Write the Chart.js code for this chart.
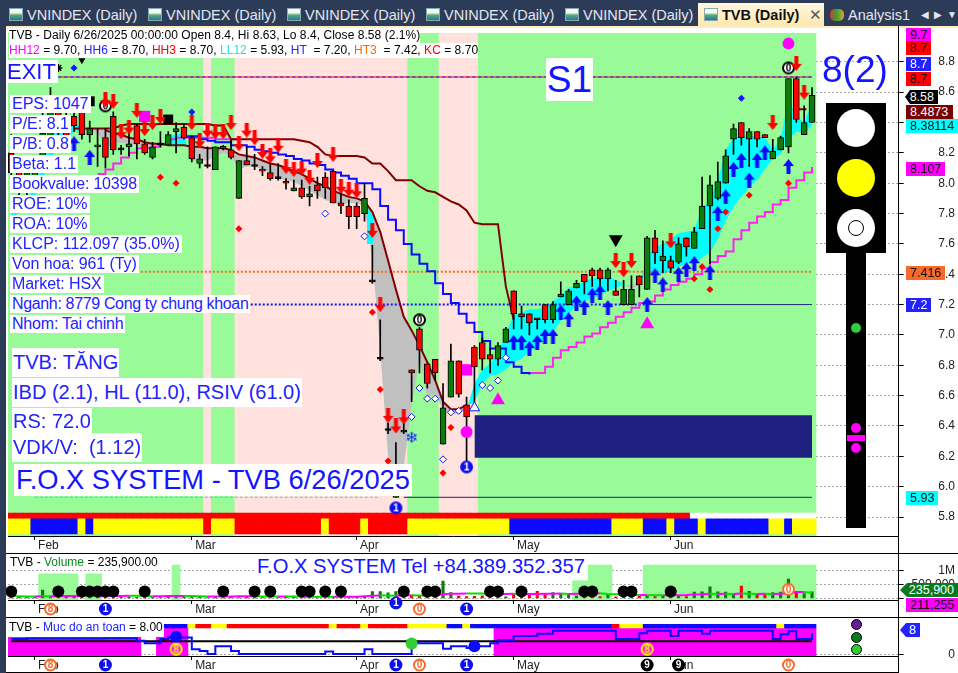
<!DOCTYPE html>
<html>
<head>
<meta charset="utf-8">
<title>TVB (Daily)</title>
<script src="https://cdn.jsdelivr.net/npm/chart.js@4/dist/chart.umd.min.js"></script>
<style>
  html, body { margin: 0; padding: 0; background: #fff; overflow: hidden; }
  body { width: 958px; height: 673px; position: relative; font-family: "Liberation Sans", Arial, sans-serif; }
  canvas { position: absolute; left: 0; }
  #main { top: 0; } #vol { top: 553px; } #safe { top: 617px; }
  .abs { position: absolute; white-space: pre; }
  .info { background: #fff; color: #2222ff; left: 10px; font-size: 16px; line-height: 18px; height: 18px; padding: 0 2px; }
  .big { background: #fff; color: #2222ff; left: 12px; font-size: 20px; padding: 0 1px; }
  .tag { left: 906px; height: 14px; line-height: 14px; font-size: 12.5px; padding: 0 4px; color: #111; }
  .tab { top: 6px; color: #e3e8f0; font-size: 14.5px; line-height: 18px; }
  .ico { position: absolute; top: 8px; width: 14px; height: 13px; background: linear-gradient(#f4f8ff 35%, #55b060 55%, #2a6fc0); border: 1px solid #8aa; box-sizing: border-box; }
  .line { position: absolute; background: #000; }
  .dot { position: absolute; border-radius: 50%; }
</style>
</head>
<body>
<canvas id="main" width="958" height="553"></canvas>
<canvas id="vol" width="958" height="64"></canvas>
<canvas id="safe" width="958" height="56"></canvas>

<!-- tab bar -->
<div class="abs" style="left:0;top:0;width:958px;height:26px;background:#2c3b57"></div>
<div class="abs" style="left:0;top:26px;width:6px;height:647px;background:#2c3b57"></div>
<div class="abs" style="left:6px;top:26px;width:952px;height:2px;background:#fdeec0"></div>
<div class="abs" style="left:698px;top:3px;width:126px;height:23px;background:linear-gradient(#fff7df,#fde7ae)"></div>
<div class="ico" style="left:9px"></div><div class="abs tab" style="left:27px">VNINDEX (Daily)</div>
<div class="ico" style="left:148px"></div><div class="abs tab" style="left:166px">VNINDEX (Daily)</div>
<div class="ico" style="left:287px"></div><div class="abs tab" style="left:305px">VNINDEX (Daily)</div>
<div class="ico" style="left:426px"></div><div class="abs tab" style="left:444px">VNINDEX (Daily)</div>
<div class="ico" style="left:565px"></div><div class="abs tab" style="left:583px">VNINDEX (Daily)</div>
<div class="ico" style="left:704px"></div><div class="abs tab" style="left:722px;color:#111;font-weight:bold">TVB (Daily)</div>
<div class="abs tab" style="left:809px;color:#555;font-size:15px">✕</div>
<div class="abs" style="left:830px;top:9px;width:14px;height:12px;background:linear-gradient(90deg,#d33,#3a3,#e93);border-radius:5px"></div>
<div class="abs tab" style="left:848px">Analysis1</div>
<div class="abs tab" style="left:921px;font-size:10px">◀</div>
<div class="abs tab" style="left:934px;font-size:10px">▶</div>
<div class="abs tab" style="left:947px;font-size:10px">▼</div>

<!-- title rows -->
<div class="abs" style="left:9px;top:28px;background:#fff;font-size:12px;line-height:15px;color:#000;letter-spacing:.05px">TVB - Daily 6/26/2025 00:00:00 Open 8.4, Hi 8.63, Lo 8.4, Close 8.58 (2.1%)</div>
<div class="abs" style="left:9px;top:43px;width:469px;background:#fff;font-size:12px;line-height:15px;color:#000;letter-spacing:.03px"><span style="color:#f0f">HH12</span> = 9.70, <span style="color:#22f">HH6</span> = 8.70, <span style="color:#f00">HH3</span> = 8.70, <span style="color:#0ee">LL12</span> = 5.93, <span style="color:#22f">HT </span> = 7.20, <span style="color:#f60">HT3</span>  = 7.42, <span style="color:#f00">KC</span> = 8.70</div>

<!-- info labels -->
<div class="abs" style="left:7px;top:60px;background:#fff;color:#1414ff;font-size:22px;line-height:23px;padding-right:2px">EXIT</div>
<div class="abs" style="left:546px;top:58px;width:47px;height:43px;background:#fff;color:#1414ff;font-size:37px;line-height:43px;text-align:center">S1</div>
<div class="abs" style="left:822px;top:48px;color:#1414ff;font-size:37px;line-height:43px">8(2)</div>
<div class="abs info" style="top:95px">EPS: 1047</div>
<div class="abs info" style="top:115px">P/E: 8.1</div>
<div class="abs info" style="top:135px">P/B: 0.8</div>
<div class="abs info" style="top:155px">Beta: 1.1</div>
<div class="abs info" style="top:175px;letter-spacing:-.2px">Bookvalue: 10398</div>
<div class="abs info" style="top:195px">ROE: 10%</div>
<div class="abs info" style="top:215px">ROA: 10%</div>
<div class="abs info" style="top:235px">KLCP: 112.097 (35.0%)</div>
<div class="abs info" style="top:255px;letter-spacing:-.1px">Von hoa: 961 (Ty)</div>
<div class="abs info" style="top:275px;letter-spacing:-.1px">Market: HSX</div>
<div class="abs info" style="top:295px;letter-spacing:-.35px">Nganh: 8779 Cong ty chung khoan</div>
<div class="abs info" style="top:315px;letter-spacing:-.2px">Nhom: Tai chinh</div>
<div class="abs big" style="top:348px;line-height:29px">TVB: TĂNG</div>
<div class="abs big" style="top:378px;line-height:29px">IBD (2.1), HL (11.0), RSIV (61.0)</div>
<div class="abs big" style="top:408px;line-height:26px">RS: 72.0</div>
<div class="abs big" style="top:433px;line-height:29px">VDK/V:  (1.12)</div>
<div class="abs" style="left:14px;top:464px;padding:0 2px;background:#fff;color:#1414ff;font-size:27.3px;line-height:32px">F.O.X SYSTEM - TVB 6/26/2025</div>

<!-- traffic light -->
<div class="abs" style="left:826px;top:103px;width:60px;height:150px;background:#000"></div>
<div class="abs" style="left:846px;top:253px;width:20px;height:275px;background:#000"></div>
<div class="dot" style="left:837px;top:109px;width:38px;height:38px;background:#fff"></div>
<div class="dot" style="left:837px;top:159px;width:38px;height:38px;background:#ff0"></div>
<div class="dot" style="left:837px;top:209px;width:38px;height:38px;background:#fff"></div>
<div class="dot" style="left:848px;top:220px;width:14px;height:14px;border:1px solid #000"></div>
<div class="dot" style="left:851px;top:323px;width:10px;height:10px;background:#2ecc40"></div>
<div class="dot" style="left:851px;top:423px;width:10px;height:10px;background:#f0f"></div>
<div class="abs" style="left:847px;top:435px;width:18px;height:6px;background:#f0f"></div>
<div class="dot" style="left:851px;top:443px;width:10px;height:10px;background:#f0f"></div>

<!-- value tags -->
<div class="abs tag" style="top:28px;width:17px;background:#f0f">9.7</div>
<div class="abs tag" style="top:41px;width:17px;background:#f00">8.7</div>
<div class="abs tag" style="top:57px;width:17px;background:#22f;color:#fff">8.7</div>
<div class="abs tag" style="top:72px;width:17px;background:#f00">8.7</div>
<div class="abs tag" style="top:90px;width:25px;background:#000;color:#fff;left:905px;text-align:right;clip-path:polygon(0 50%,5px 0,100% 0,100% 100%,5px 100%)">8.58</div>
<div class="abs tag" style="top:105px;width:39px;background:#7a0000;color:#fff">8.4873</div>
<div class="abs tag" style="top:119px;width:44px;background:#0ff">8.38114</div>
<div class="abs tag" style="top:162px;width:31px;background:#f0f">8.107</div>
<div class="abs tag" style="top:266px;width:31px;background:#f96a2a">7.416</div>
<div class="abs tag" style="top:298px;width:17px;background:#22f;color:#fff">7.2</div>
<div class="abs tag" style="top:491px;width:24px;background:#0ff">5.93</div>
<div class="abs tag" style="top:583px;left:900px;width:50px;background:#0a7a20;color:#fff;text-align:right;clip-path:polygon(0 50%,7px 0,100% 0,100% 100%,7px 100%)">235,900</div>
<div class="abs tag" style="top:598px;width:44px;background:#f0f">211,255</div>
<div class="abs tag" style="top:623px;left:900px;width:12px;background:#22f;color:#fff;text-align:right;clip-path:polygon(0 50%,6px 0,100% 0,100% 100%,6px 100%)">8</div>
<div class="dot" style="left:851px;top:619px;width:9px;height:9px;background:#6a1b9a;border:1px solid #000"></div>
<div class="dot" style="left:851px;top:632px;width:9px;height:9px;background:#0a7a20;border:1px solid #000"></div>
<div class="dot" style="left:851px;top:644px;width:9px;height:9px;background:#32cd32;border:1px solid #000"></div>

<!-- pane captions -->
<div class="abs" style="left:10px;top:555px;font-size:12px;line-height:15px;color:#000">TVB - <span style="color:#0a8a20">Volume</span> = 235,900.00</div>
<div class="abs" style="left:255px;top:555px;padding:0 2px;background:#fff;color:#1414ff;font-size:20.2px;line-height:23px">F.O.X SYSTEM Tel +84.389.352.357</div>
<div class="abs" style="left:9px;top:620px;background:#fff;font-size:12px;line-height:15px;color:#000">TVB - <span style="color:#22f">Muc do an toan</span> = 8.00</div>

<!-- pane frame -->
<div class="line" style="left:898px;top:26px;width:1px;height:647px"></div>
<div class="line" style="left:6px;top:553px;width:952px;height:1px"></div>
<div class="line" style="left:6px;top:617px;width:952px;height:1px"></div>
<div class="line" style="left:6px;top:672px;width:892px;height:1px"></div>

<script>
// daily candles, 103 sessions from late January to 6/26/2025
const opens = [8.20,8.11,7.96,8.04,8.15,8.29,8.48,8.40,8.44,8.47,
  8.32,8.24,8.30,8.44,8.22,8.24,8.38,8.26,8.17,8.25,
  8.25,8.34,8.37,8.30,8.13,8.11,8.09,8.24,8.22,7.90,
  8.15,8.11,8.09,8.07,8.03,8.01,7.95,7.97,7.91,7.99,
  8.04,8.08,7.87,7.85,7.85,7.80,7.35,6.84,6.37,5.93,
  6.36,6.77,7.04,6.81,6.84,6.28,6.59,6.83,6.54,6.92,
  6.95,6.87,6.84,6.95,7.29,7.14,7.14,7.11,7.20,7.10,
  7.25,7.20,7.31,7.40,7.43,7.43,7.37,7.29,7.20,7.20,
  7.39,7.30,7.64,7.49,7.49,7.48,7.64,7.57,7.70,7.85,
  7.90,8.00,8.29,8.40,8.29,8.34,8.32,8.16,8.22,8.24,
  8.69,8.32,8.40];
const highs = [8.32,8.13,8.09,8.18,8.46,8.63,8.55,8.46,8.46,8.51,
  8.41,8.36,8.36,8.47,8.25,8.33,8.39,8.29,8.27,8.34,
  8.34,8.40,8.39,8.31,8.19,8.24,8.24,8.25,8.29,8.15,
  8.24,8.19,8.11,8.13,8.13,8.03,8.02,8.02,7.98,8.04,
  8.07,8.08,7.96,7.89,7.87,8.00,7.59,7.10,6.42,6.29,
  6.42,6.77,7.05,6.81,6.84,6.68,6.94,6.83,6.59,6.93,
  6.98,6.91,6.95,7.05,7.29,7.19,7.14,7.11,7.20,7.22,
  7.35,7.30,7.36,7.40,7.44,7.44,7.44,7.36,7.36,7.39,
  7.39,7.65,7.69,7.62,7.52,7.64,7.64,7.71,8.04,8.05,
  8.14,8.22,8.39,8.40,8.36,8.34,8.32,8.29,8.31,8.69,
  8.70,8.51,8.63];
const lows = [8.04,7.89,7.89,8.02,8.13,8.26,8.29,8.22,8.34,8.29,
  8.27,8.11,8.10,8.19,8.19,8.18,8.16,8.19,8.16,8.24,
  8.25,8.20,8.29,8.14,8.10,8.10,8.09,8.22,8.16,7.90,
  8.12,8.09,8.05,8.02,8.02,7.96,7.95,7.90,7.85,7.90,
  7.90,7.87,7.80,7.70,7.70,7.75,7.34,6.83,6.35,5.93,
  6.35,6.56,6.75,6.65,6.70,6.28,6.59,6.59,6.11,6.53,
  6.77,6.75,6.80,6.95,7.04,7.04,7.00,7.04,7.08,7.08,
  7.25,7.20,7.31,7.27,7.32,7.32,7.29,7.26,7.20,7.20,
  7.25,7.30,7.47,7.41,7.41,7.47,7.52,7.57,7.70,7.47,
  7.89,8.00,8.19,8.25,8.11,8.24,8.30,8.16,8.22,8.20,
  8.40,8.32,8.40];
const closes = [8.07,8.02,8.07,8.15,8.33,8.48,8.35,8.26,8.38,8.32,
  8.36,8.25,8.17,8.22,8.22,8.26,8.26,8.20,8.24,8.25,
  8.32,8.36,8.30,8.16,8.16,8.11,8.24,8.23,8.17,8.15,
  8.12,8.11,8.08,8.03,8.03,8.00,7.97,7.91,7.93,7.95,
  7.97,7.87,7.85,7.78,7.78,7.90,7.35,6.84,6.37,5.94,
  6.36,6.75,6.90,6.68,6.75,6.52,6.83,6.61,6.46,6.79,
  6.84,6.84,6.93,7.04,7.14,7.12,7.08,7.10,7.10,7.20,
  7.27,7.29,7.34,7.35,7.39,7.37,7.43,7.26,7.30,7.30,
  7.33,7.64,7.54,7.52,7.44,7.60,7.58,7.68,7.85,7.99,
  8.01,8.18,8.36,8.30,8.34,8.29,8.30,8.21,8.30,8.69,
  8.42,8.40,8.58];

// cloud edges (cyan when fast is above slow, grey when below)
const fastBand = [7.80,7.85,7.89,7.98,8.13,8.31,8.42,8.42,8.40,8.36,
  8.35,8.33,8.24,8.26,8.27,8.26,8.25,8.23,8.22,8.24,
  8.29,8.33,8.32,8.15,8.15,8.15,8.18,8.20,8.18,8.09,
  8.11,8.11,8.09,8.07,8.03,8.02,8.01,7.98,7.95,7.92,
  7.89,7.87,7.86,7.87,7.87,7.85,7.50,6.90,6.20,5.93,
  6.13,6.53,6.84,6.59,6.61,6.51,6.48,6.48,6.51,6.68,
  6.77,6.81,6.88,7.01,7.13,7.15,7.17,7.17,7.18,7.22,
  7.26,7.31,7.33,7.35,7.37,7.38,7.39,7.36,7.34,7.30,
  7.33,7.52,7.58,7.60,7.63,7.67,7.68,7.69,7.84,7.89,
  8.02,8.22,8.30,8.31,8.31,8.31,8.30,8.22,8.29,8.55,
  8.44,8.40,8.53];
const slowBand = [7.78,7.80,7.82,7.91,8.02,8.15,8.24,8.29,8.34,8.35,
  8.36,8.36,8.35,8.33,8.32,8.30,8.29,8.27,8.26,8.26,
  8.25,8.25,8.25,8.24,8.24,8.23,8.23,8.23,8.22,8.19,
  8.18,8.17,8.15,8.13,8.12,8.10,8.08,8.06,8.03,8.00,
  7.98,7.95,7.93,7.91,7.90,7.88,7.81,7.68,7.49,7.30,
  7.12,7.03,6.93,6.82,6.70,6.56,6.51,6.51,6.54,6.55,
  6.68,6.73,6.74,6.77,6.82,6.84,6.89,6.92,6.98,7.02,
  7.09,7.14,7.19,7.22,7.24,7.26,7.29,7.31,7.33,7.33,
  7.36,7.40,7.40,7.40,7.42,7.45,7.47,7.47,7.51,7.54,
  7.63,7.75,7.84,7.91,7.97,8.02,8.09,8.16,8.19,8.29,
  8.34,8.33,8.38];

// stop lines, each with the session it starts on
const stopMaroonStart = 8;
const stopMaroon = [8.36,8.36,8.36,8.36,8.36,8.36,8.38,8.39,8.39,8.39,8.39,8.39,8.39,8.39,8.39,8.39,8.39,8.39,8.38,8.38,
  8.29,8.29,8.29,8.29,8.29,8.29,8.29,8.29,8.29,8.28,8.27,8.24,8.19,8.18,8.18,8.18,8.18,8.17,8.13,8.13,
  8.08,8.02,8.02,8.02,7.98,7.95,7.94,7.91,7.88,7.86,7.82,7.74,7.73,7.73,7.73,7.32,7.10];
const stopBlueStart = 22;
const stopBlue = [8.31,8.31,8.29,8.28,8.27,8.27,8.25,8.25,8.24,8.22,8.21,8.20,8.19,8.18,8.16,8.15,8.13,8.12,8.09,8.07,
  8.05,8.03,8.00,8.00,7.96,7.85,7.76,7.69,7.60,7.53,7.47,7.42,7.34,7.27,7.21,7.14,7.08,7.02,6.96,6.91,
  6.91,6.82,6.79,6.75,6.74];
const stopMagentaEarlyStart = 11;
const stopMagentaEarly = [8.06,8.09,8.13,8.17,8.20,8.23,8.23,8.24,8.26,8.29,8.30,8.30,8.30,8.30,8.30,8.29,8.29,8.29,8.29];
const stopMagentaStart = 66;
const stopMagenta = [6.75,6.75,6.79,6.85,6.90,6.92,6.95,6.99,7.01,7.05,7.08,7.12,7.15,7.18,7.21,7.22,7.26,7.30,7.33,7.35,
  7.37,7.40,7.44,7.48,7.52,7.55,7.63,7.69,7.74,7.78,7.81,7.86,7.89,7.97,8.02,8.07,8.107];

// signal marks: session and price
const downArrowAt = [12,13,14,15,16,17,18,19,23,24,25,26,27,28,29,30,31,32,33,34,35,36,37,38,39,41,42,43,44,46,47,48,49,50,77,78,79,84,97,100,101];
const downArrowPx = [8.55,8.54,8.34,8.37,8.48,8.36,8.40,8.44,8.40,8.28,8.35,8.34,8.34,8.40,8.26,8.35,8.30,8.21,8.18,8.25,8.11,8.09,8.10,8.04,8.15,8.19,7.98,7.96,7.95,7.69,7.20,6.47,6.40,6.46,7.49,7.43,7.49,7.62,8.40,8.79,8.60];
const upArrowAt = [8,10,64,65,66,67,68,69,70,71,72,73,74,75,76,81,82,83,85,86,87,89,90,91,92,93,94,95,96,99];
const upArrowPx = [8.26,8.17,6.95,6.95,6.91,6.95,6.99,6.99,7.15,7.10,7.21,7.18,7.26,7.28,7.18,7.20,7.39,7.33,7.40,7.43,7.47,7.41,7.80,7.91,8.09,8.15,8.02,8.15,8.20,8.11];
const redDiamondAt = [19,21,29,46,47,48,55,56,87,88,89,90,91,94,99];
const redDiamondPx = [8.04,8.00,7.70,7.15,6.64,6.17,6.09,6.39,7.37,7.45,7.30,7.70,7.81,7.92,8.00];
const hollowDiamondAt = [40,45,51,52,53,54,55,56,57,60,61,62,63];
const hollowDiamondPx = [7.80,7.65,6.46,6.65,6.58,6.58,6.18,6.49,6.50,6.67,6.65,6.70,6.85];
const blueDiamondAt = [8,23,93];
const blueDiamondPx = [8.76,8.47,8.56];
const magentaDotAt = [58,99];
const magentaDotPx = [6.36,8.92];
const magentaSquareAt = [17,58];
const magentaSquarePx = [8.44,6.77];
const blackSquareAt = [10,20];
const blackSquarePx = [8.54,8.42];
const blackTriAt = [9,77];
const blackTriPx = [8.81,7.63];
const magentaTriAt = [62,81];
const magentaTriPx = [6.57,7.07];
const ringZeroAt = [12,52,99];
const ringZeroPx = [8.51,7.10,8.76];
const blueOneAt = [49,58];
const blueOnePx = [5.86,6.13];

// level lines
const levelExit = 8.7;
const levelHT3 = 7.416;
const levelHT = 7.2;
const levelLL12 = 5.93;
const boxTop = 6.47;
const boxBottom = 6.19;

// volume pane
const volumes = [60,40,60,40,300,40,90,110,60,50,60,60,70,50,40,60,40,70,40,30,
  40,60,70,90,40,30,50,30,40,30,40,50,30,30,30,50,40,40,50,30,
  50,40,40,50,50,60,250,250,200,250,100,120,90,50,60,625,210,90,70,80,
  100,90,100,60,160,100,110,260,160,210,180,180,100,100,100,70,150,60,40,60,
  90,80,70,90,60,100,70,230,240,420,240,230,160,450,260,150,160,210,230,700,
  260,180,236];
const volumeAvg = [80,78,76,75,85,84,84,86,86,86,85,84,84,86,90,100,96,92,85,85,
  88,88,90,88,80,75,75,75,76,78,80,82,76,72,70,70,68,66,66,65,
  64,62,62,62,64,80,95,110,105,100,110,116,112,110,108,150,170,175,180,178,
  176,175,165,165,170,155,160,165,170,170,180,165,170,175,180,190,160,150,140,135,
  125,130,120,115,115,120,125,140,150,170,165,170,165,180,170,165,175,160,170,185,
  230,235,211];
const volGreenLow = [72,73];
const volGreenMid = [4,5,6,7,8,10,11];
const volGreenHigh = [21,74,75,76,81,82,83,84,85,86,87,88,89,90,91,92,93,94,95,96,97,98,99,100,101,102];
const volDotAt = [0,6,9,10,11,12,13,17,27,31,33,37,38,40,42,50,53,54,61,62,65,73,74,78,79,84];

// safety pane
const safetyLevel = [5.8,5.8,6,6,6,6,6,6,6,6,6,6,6.1,6.1,6.1,6.1,5.2,4.2,4.2,5.8,
  6.4,6.4,6.4,2,1.3,0.2,3.1,3.1,1.3,0.2,0.2,0.2,0.2,0.2,0.2,0.2,0.2,0.2,0.2,0.2,
  1.1,0.2,0.2,0.2,0.2,2,0.2,0.2,0.2,0.2,0.2,4.2,4.2,4.2,4.2,2.2,3.1,3.1,2.4,3.1,
  3.1,4.2,5.3,5.3,6.9,6.9,6.9,7.8,7.8,8.9,8.9,8.9,8.9,8.9,8.9,8.9,8.9,5.8,5.8,5.8,
  8,8.9,8.9,8.9,6.9,8.9,8.9,8.9,7.8,8.9,8.9,8.9,8.9,8.9,8.9,8.9,8.9,5.8,7.6,8.7,
  5.8,5.8,8];
const safetyBaseline = 5;
const safeLowAt = [0,1,2,3,4,5,6,7,8,9,10,11,12,13,14,15,16,19];
const safeHighAt = [20,21,22,62,63,64,65,66,67,68,69,70,71,72,73,74,75,76,77,78,79,80,81,82,83,84,85,86,87,88,89,90,91,92,93,94,95,96,97,98,99,100,101,102];

// state strips, run lengths by session
const zoneRuns = [['g',25],['p',1],['g',3],['p',22],['g',4],['p',5],['g',43]];
const trendRuns = [['y',3],['b',6],['y',1],['b',1],['y',14],['r',1],['y',3],['r',11],['y',1],['r',4],['y',1],['r',5],['y',13],['b',13],['y',4],['b',3],['y',1],['b',3],['y',1],['b',8],['y',2],['b',1],['y',3]];
const safetyRuns = [['w',20],['b',3],['y',1],['r',2],['y',2],['r',13],['y',1],['r',3],['y',1],['r',5],['y',5],['b',2],['y',1],['b',18],['r',1],['y',3],['b',17],['y',1],['b',4]];
const redStripSessions = 87;

// axes
const xTickAt = [3,23,44,64,84];
const xTickLabels = ['Feb','Mar','Apr','May','Jun'];
const priceTicks = [5.8,6.0,6.2,6.4,6.6,6.8,7.0,7.2,7.4,7.6,7.8,8.0,8.2,8.4,8.6,8.8];
const volumeTicks = [0,500,1000];
const volBadges = [[5,'8','#f96a2a'],[12,'1','#1010ee'],[49,'1','#1010ee',-6],[52,'0','#f96a2a'],[58,'1','#1010ee']];
const safeBadges = [[5,'8','#f96a2a'],[12,'1','#1010ee'],[49,'1','#1010ee'],[52,'0','#f96a2a'],[58,'1','#1010ee'],[81,'9','#000'],[85,'9','#000'],[99,'0','#f96a2a']];

const COLORS = { g:'#98fb98', p:'#ffe2dd', y:'#ffff00', b:'#0a0aff', r:'#ff0000', w:'#ffffff' };
const FONT = '"Liberation Sans", Arial, sans-serif';
const X_MIN = -0.41, X_MAX = 113.04;

function expand(runs) {
  const out = [];
  runs.forEach(r => { for (let k = 0; k < r[1]; k++) out.push(COLORS[r[0]]); });
  return out;
}
function series(start, values) { return values.map((v, k) => ({ x: start + k, y: v })); }
function pairs(at, px) { return at.map((a, k) => ({ x: a, y: px[k] })); }
function span(at, lo, hi) { return at.map(a => ({ x: a, y: [lo, hi] })); }
function allSpan(lo, hi) { return closes.map((c, i) => ({ x: i, y: [lo, hi] })); }

// little images for the marks chart.js has no style for
function arrow(color, up) {
  const c = document.createElement('canvas'); c.width = 11; c.height = 15;
  const g = c.getContext('2d'); g.fillStyle = color; g.beginPath();
  if (up) { g.moveTo(5.5,0); g.lineTo(11,7); g.lineTo(7.5,7); g.lineTo(7.5,15); g.lineTo(3.5,15); g.lineTo(3.5,7); g.lineTo(0,7); }
  else { g.moveTo(5.5,15); g.lineTo(11,8); g.lineTo(7.5,8); g.lineTo(7.5,0); g.lineTo(3.5,0); g.lineTo(3.5,8); g.lineTo(0,8); }
  g.closePath(); g.fill();
  return c;
}
function badgeDraw(g, x, y, digit, color, fill, digitColor) {
  g.beginPath(); g.arc(x, y, 5.5, 0, Math.PI * 2);
  g.fillStyle = fill; g.fill();
  g.lineWidth = 2; g.strokeStyle = color; g.stroke();
  g.fillStyle = digitColor;
  g.font = 'bold 10px ' + FONT; g.textAlign = 'center'; g.textBaseline = 'middle';
  g.fillText(digit, x, y + 0.5);
}
function badge(digit, color, fill, digitColor) {
  const c = document.createElement('canvas'); c.width = 15; c.height = 15;
  badgeDraw(c.getContext('2d'), 7.5, 7.5, digit, color, fill, digitColor);
  return c;
}
function snowflake() {
  const c = document.createElement('canvas'); c.width = 15; c.height = 15;
  const g = c.getContext('2d'); g.fillStyle = '#1414ff';
  g.font = '15px "DejaVu Sans"'; g.textAlign = 'center'; g.textBaseline = 'middle';
  g.fillText('❄', 7.5, 8);
  return c;
}

function scatter(label, data, extra) {
  return Object.assign({ type:'scatter', label, data, showLine:false, order:5, clip:false, pointBorderWidth:0 }, extra);
}
function step(label, data, color, extra) {
  return Object.assign({ type:'line', label, data, borderColor:color, borderWidth:2, pointRadius:0, fill:false, tension:0, order:30 }, extra);
}
function flatBars(label, data, colors, extra) {
  return Object.assign({ type:'bar', label, data, backgroundColor:colors, barThickness:8, grouped:false, borderWidth:0, order:100 }, extra);
}

// keep the plot area where the layout puts it
function fixedAxis(size, vertical) {
  return s => {
    if (vertical) s.width = size; else s.height = size;
    s.paddingTop = s.paddingBottom = s.paddingLeft = s.paddingRight = 0;
  };
}
function xAxis() {
  return {
    type:'linear', min:X_MIN, max:X_MAX, offset:false,
    afterBuildTicks: s => { s.ticks = xTickAt.map(v => ({ value:v })); },
    afterFit: fixedAxis(17, false),
    grid:{ offset:false, drawOnChartArea:false, color:'#000', tickLength:4 },
    border:{ color:'#000' },
    ticks:{ autoSkip:false, maxRotation:0, align:'start', padding:-2, color:'#222', font:{ family:FONT, size:12 },
      callback: v => ' ' + xTickLabels[xTickAt.indexOf(v)] }
  };
}
function yAxis(min, max, ticks, fmt) {
  return {
    type:'linear', position:'right', min, max,
    afterBuildTicks: s => { s.ticks = ticks.map(v => ({ value:v })); },
    afterFit: fixedAxis(56.3, true),
    grid:{ color:'#a8a8a8', lineWidth:1, tickColor:'#000', tickLength:5, tickBorderDash:[] },
    border:{ color:'#000', dash:[2,2] },
    ticks:{ autoSkip:false, crossAlign:'far', padding:0, color:'#222', font:{ family:FONT, size:12 }, callback:fmt }
  };
}
function makeChart(id, top, y, datasets, badges) {
  return new Chart(document.getElementById(id), {
    type:'scatter',
    data:{ datasets },
    options:{
      responsive:false, animation:false, events:[],
      layout:{ padding:{ left:8, top, right:3, bottom:0 } },
      plugins:{ legend:{ display:false }, tooltip:{ enabled:false } },
      scales:{ x:xAxis(), y }
    },
    plugins:[{
      id:'stripBadges',
      afterDraw(chart) {
        (badges || []).forEach(b => {
          const px = chart.scales.x.getPixelForValue(b[0]);
          const ring = b[2] === '#f96a2a';
          badgeDraw(chart.ctx, px, chart.chartArea.bottom + 9 + (b[3] || 0), b[1], b[2], ring ? '#fff' : b[2], ring ? b[2] : '#fff');
        });
      }
    }]
  });
}

// price pane
const candleUp = closes.map((c, i) => c >= opens[i]);
makeChart('main', 33, yAxis(5.675, 8.99, priceTicks, v => v.toFixed(1)), [
  flatBars('zones', allSpan(5.675, 8.99), expand(zoneRuns)),
  flatBars('red strip', closes.map((c, i) => ({ x:i, y:[5.793, 5.826] })), closes.map((c, i) => i < redStripSessions ? COLORS.r : COLORS.w), { order:99 }),
  flatBars('trend strip', allSpan(5.688, 5.793), expand(trendRuns), { order:99 }),
  step('fast', series(0, fastBand), 'rgba(0,0,0,0)', { borderWidth:0, order:90, fill:{ target:'+1', above:'#00ffff', below:'#c0c0c0' } }),
  step('slow', series(0, slowBand), '#800000', { order:28, segment:{ borderColor: c => (c.p0DataIndex >= 12 && c.p0DataIndex < 58) ? '#800000' : 'rgba(0,0,0,0)' } }),
  step('cyan sliver', [{ x:45.3, y:7.85 }, { x:46.1, y:7.78 }], 'rgba(0,0,0,0)', { borderWidth:0, order:85, fill:{ value:7.6 }, backgroundColor:'#00ffff' }),
  step('box', [{ x:59, y:boxTop }, { x:102, y:boxTop }], '#202080', { borderWidth:0, order:80, fill:{ value:boxBottom }, backgroundColor:'#202080' }),
  step('LL12', [{ x:3, y:levelLL12 }, { x:47, y:levelLL12 }], '#30dcdc', { borderWidth:1, borderDash:[3,2], order:70 }),
  step('LL12 solid', [{ x:50, y:levelLL12 }, { x:102, y:levelLL12 }], '#202080', { borderWidth:1, order:70 }),
  step('HT3', [{ x:16, y:levelHT3 }, { x:102, y:levelHT3 }], '#ff6a1a', { borderWidth:2, borderDash:[2,2], order:70 }),
  step('HT', [{ x:30, y:levelHT }, { x:81, y:levelHT }], '#1414ff', { borderWidth:2, borderDash:[2,2], order:70 }),
  step('HT solid', [{ x:81, y:levelHT }, { x:102, y:levelHT }], '#202080', { borderWidth:1, order:70 }),
  step('exit red', [{ x:6, y:levelExit }, { x:102, y:levelExit }], '#ff0000', { borderWidth:1, order:71 }),
  step('exit blue', [{ x:6, y:levelExit }, { x:102, y:levelExit }], '#1414ff', { borderWidth:1, borderDash:[3,3], order:70 }),
  step('stop magenta early', series(stopMagentaEarlyStart, stopMagentaEarly), '#ff22ee', { stepped:true, order:31 }),
  step('stop magenta', series(stopMagentaStart, stopMagenta), '#ff22ee', { stepped:true, order:31 }),
  step('stop blue', series(stopBlueStart, stopBlue), '#0a0aff', { stepped:true, order:30 }),
  step('stop maroon', series(stopMaroonStart, stopMaroon), '#800000', { order:29 }),
  step('stop maroon end', [{ x:100, y:8.4873 }, { x:101.3, y:8.4873 }], '#800000', { order:29 }),
  { type:'bar', label:'wicks', data:closes.map((c, i) => ({ x:i, y:[lows[i], highs[i]] })), backgroundColor:'#000', barThickness:1, grouped:false, order:20 },
  { type:'bar', label:'bodies', data:closes.map((c, i) => ({ x:i, y:[opens[i], c] })),
    backgroundColor:closes.map((c, i) => c === opens[i] ? '#000' : candleUp[i] ? '#0a7d0a' : '#ff0000'),
    borderColor:'#000', borderWidth:1, borderSkipped:false, barThickness:6, minBarLength:2, grouped:false, order:19 },
  scatter('magenta squares', pairs(magentaSquareAt, magentaSquarePx), { pointStyle:'rect', pointRadius:8, pointBackgroundColor:'#ff00ff', order:25 }),
  scatter('black squares', pairs(blackSquareAt, blackSquarePx), { pointStyle:'rect', pointRadius:7, pointBackgroundColor:'#000', order:25 }),
  scatter('down arrows', pairs(downArrowAt, downArrowPx), { pointStyle:arrow('#ff0000', false) }),
  scatter('up arrows', pairs(upArrowAt, upArrowPx), { pointStyle:arrow('#0a0aff', true) }),
  scatter('red diamonds', pairs(redDiamondAt, redDiamondPx), { pointStyle:'rectRot', pointRadius:3.5, pointBackgroundColor:'#ff0000' }),
  scatter('hollow diamonds', pairs(hollowDiamondAt, hollowDiamondPx), { pointStyle:'rectRot', pointRadius:3.5, pointBackgroundColor:'#ffffff', pointBorderColor:'#1414ff', pointBorderWidth:1 }),
  scatter('blue diamonds', pairs(blueDiamondAt, blueDiamondPx), { pointStyle:'rectRot', pointRadius:3.5, pointBackgroundColor:'#1414ff' }),
  scatter('magenta dots', pairs(magentaDotAt, magentaDotPx), { pointStyle:'circle', pointRadius:6, pointBackgroundColor:'#ff00ff' }),
  scatter('black triangles', pairs(blackTriAt, blackTriPx), { pointStyle:'triangle', rotation:180, pointRadius:[4,8], pointBackgroundColor:'#000' }),
  scatter('magenta triangles', pairs(magentaTriAt, magentaTriPx), { pointStyle:'triangle', pointRadius:8, pointBackgroundColor:'#ff00ff' }),
  scatter('outline triangle', [{ x:59, y:6.52 }], { pointStyle:'triangle', pointRadius:6, pointBackgroundColor:'#fff', pointBorderColor:'#1414ff', pointBorderWidth:1 }),
  scatter('rings', pairs(ringZeroAt, ringZeroPx), { pointStyle:badge('0', '#000', '#fff', '#000') }),
  scatter('blue ones', pairs(blueOneAt, blueOnePx), { pointStyle:badge('1', '#1010ee', '#1010ee', '#fff') }),
  scatter('snowflake', [{ x:51, y:6.32 }], { pointStyle:snowflake() }),
  scatter('exit star', [{ x:6, y:8.76 }], { pointStyle:'star', pointRadius:4, pointBorderColor:'#000', pointBorderWidth:1.5 })
]);

// volume pane (values in thousands of shares)
makeChart('vol', 0, yAxis(-53, 1416, volumeTicks, v => v === 1000 ? '1M' : v === 500 ? '500,000' : ''), [
  flatBars('green low', span(volGreenLow, -53, 634), COLORS.g),
  flatBars('green mid', span(volGreenMid, -53, 884), COLORS.g),
  flatBars('green high', span(volGreenHigh, -53, 1197), COLORS.g),
  { type:'bar', label:'volume', data:volumes.map((v, i) => ({ x:i, y:[0, v] })),
    backgroundColor:candleUp.map(u => u ? '#0a7d0a' : '#ff0000'), barThickness:2.5, grouped:false, order:40 },
  step('volume avg', series(0, volumeAvg), '#ff00ff', { order:30, segment:{ borderColor: c => c.p1.parsed.y >= c.p0.parsed.y ? '#ff00ff' : '#00e000' } }),
  scatter('black dots', volDotAt.map(a => ({ x:a, y:250 })), { pointStyle:'circle', pointRadius:6, pointBackgroundColor:'#000' }),
  scatter('ring', [{ x:99, y:330 }], { pointStyle:badge('0', '#f96a2a', '#fff', '#f96a2a'), order:4 })
], volBadges);

// safety pane
makeChart('safe', 1, yAxis(-0.55, 11.8, [0], () => '0'), [
  flatBars('low fill', span(safeLowAt, -0.55, 6.4), '#ff00ff'),
  flatBars('high fill', span(safeHighAt, -0.55, 10), '#ff00ff'),
  flatBars('strip', allSpan(10, 11.3), expand(safetyRuns), { order:99 }),
  step('baseline', [{ x:0, y:safetyBaseline }, { x:102, y:safetyBaseline }], '#000', { order:35 }),
  step('safety', series(0, safetyLevel), '#0a0aff', { stepped:true, order:30 }),
  scatter('blue dots', [{ x:21, y:6.7 }, { x:59, y:3.1 }], { pointStyle:'circle', pointRadius:6, pointBackgroundColor:'#0a0aff' }),
  scatter('green dot', [{ x:51, y:4.1 }], { pointStyle:'circle', pointRadius:6, pointBackgroundColor:'#32cd32' }),
  scatter('eights', [{ x:21, y:2 }, { x:81, y:2 }], { pointStyle:badge('8', '#ffff00', '#ff00ff', '#ffff00') })
], safeBadges);
</script>
</body>
</html>
